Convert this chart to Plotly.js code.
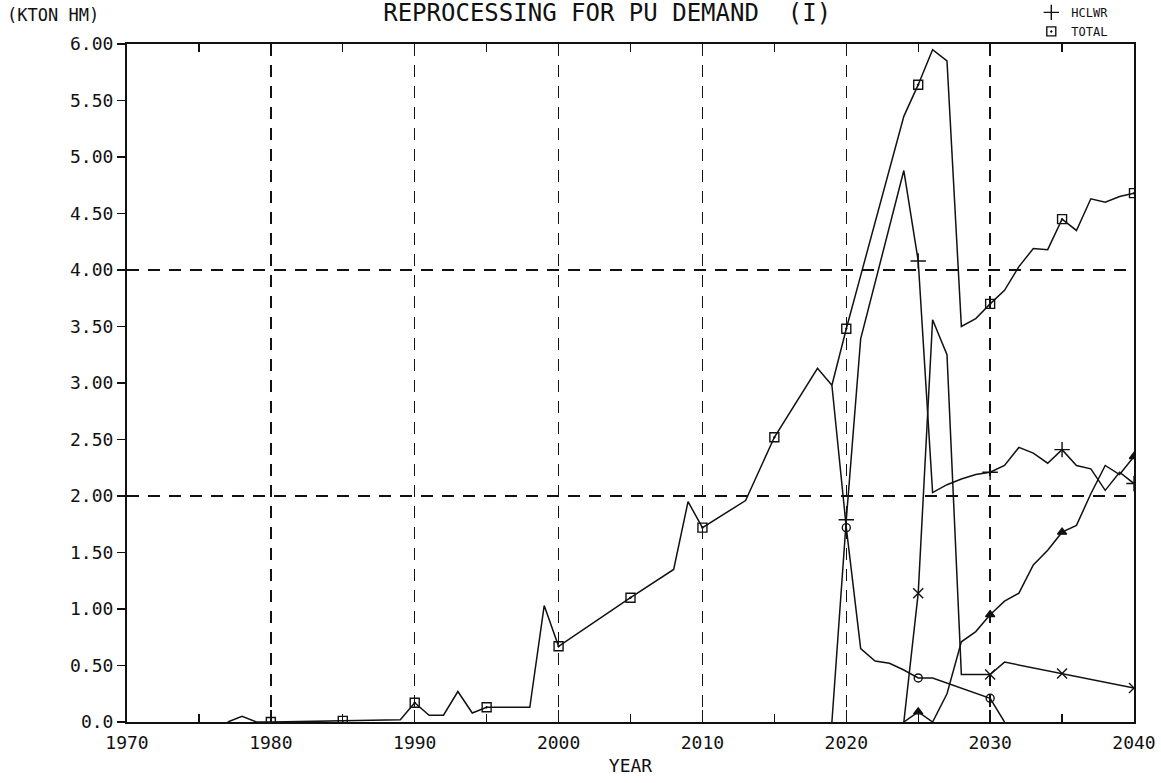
<!DOCTYPE html>
<html>
<head>
<meta charset="utf-8">
<script src="https://cdn.plot.ly/plotly-3.0.1.min.js"></script>
<style>html,body{margin:0;padding:0;background:#fff;}</style>
</head>
<body>
<div id="chart" style="width:1161px;height:783px;"></div>
<script>
// ---- data ----
const totalYears  = [1977, 1978, 1979, 1980, 1985, 1989, 1990, 1991, 1992, 1993, 1994, 1995, 1998, 1999, 2000, 2005, 2008, 2009, 2010, 2013, 2015, 2018, 2019, 2020, 2021, 2022, 2023, 2024, 2025, 2026, 2027, 2028, 2029, 2030, 2031, 2032, 2033, 2034, 2035, 2036, 2037, 2038, 2039, 2040];
const totalValues = [0.00, 0.05, 0.00, 0.00, 0.01, 0.02, 0.17, 0.06, 0.06, 0.27, 0.08, 0.13, 0.13, 1.03, 0.67, 1.10, 1.35, 1.95, 1.72, 1.96, 2.52, 3.13, 2.98, 3.48, 3.95, 4.42, 4.89, 5.36, 5.64, 5.95, 5.85, 3.50, 3.57, 3.70, 3.82, 4.03, 4.19, 4.18, 4.45, 4.35, 4.63, 4.60, 4.65, 4.68];

const hclwrYears  = [2019, 2020, 2021, 2022, 2023, 2024, 2025, 2026, 2027, 2028, 2029, 2030, 2031, 2032, 2033, 2034, 2035, 2036, 2037, 2038, 2039, 2040];
const hclwrValues = [0.00, 1.79, 3.39, 3.88, 4.38, 4.88, 4.08, 2.03, 2.10, 2.15, 2.19, 2.21, 2.27, 2.43, 2.38, 2.29, 2.41, 2.27, 2.24, 2.05, 2.21, 2.11];

const circleYears  = [2019, 2020, 2021, 2022, 2023, 2024, 2025, 2026, 2030, 2031];
const circleValues = [2.98, 1.72, 0.65, 0.54, 0.52, 0.46, 0.39, 0.39, 0.21, 0.00];

const crossYears  = [2024, 2025, 2026, 2027, 2028, 2030, 2031, 2035, 2040];
const crossValues = [0.00, 1.14, 3.56, 3.25, 0.42, 0.42, 0.53, 0.43, 0.30];

const triangleYears  = [2024, 2025, 2026, 2027, 2028, 2029, 2030, 2031, 2032, 2033, 2034, 2035, 2036, 2037, 2038, 2039, 2040];
const triangleValues = [0.00, 0.09, 0.00, 0.25, 0.71, 0.80, 0.95, 1.07, 1.14, 1.39, 1.52, 1.68, 1.74, 2.02, 2.27, 2.19, 2.35];

const xTickYears  = [1970, 1980, 1990, 2000, 2010, 2020, 2030, 2040];
const xTickLabels = ['1970', '1980', '1990', '2000', '2010', '2020', '2030', '2040'];
const yTickValues = [0, 0.5, 1, 1.5, 2, 2.5, 3, 3.5, 4, 4.5, 5, 5.5, 6];
const yTickLabels = ['0.0', '0.50', '1.00', '1.50', '2.00', '2.50', '3.00', '3.50', '4.00', '4.50', '5.00', '5.50', '6.00'];

const titleText = 'REPROCESSING FOR PU DEMAND\u00a0\u00a0(I)';
const unitLabel = '(KTON HM)';
const xTitleText = 'YEAR';

// ---- building traces ----
const FONT = 'DejaVu Sans Mono, monospace';
const INK = '#111';

function markerSubset(xs, ys) {
  const mx = [], my = [];
  xs.forEach((x, i) => { if (x % 5 === 0 && x >= 1980) { mx.push(x); my.push(ys[i]); } });
  return {mx, my};
}

function makeSeries(name, xs, ys, symbol, size, inLegend) {
  const line = {
    type: 'scatter', mode: 'lines', name: name, x: xs, y: ys,
    line: {color: INK, width: 1.5}, showlegend: false, hoverinfo: 'skip'
  };
  const m = markerSubset(xs, ys);
  const marks = {
    type: 'scatter', mode: 'markers', name: name, x: m.mx, y: m.my,
    marker: {symbol: symbol, size: size, color: INK, line: {color: INK, width: 1.4}},
    showlegend: inLegend
  };
  return [line, marks];
}

const traces = [].concat(
  makeSeries('LWR', circleYears, circleValues, 'circle-open', 8, false),
  makeSeries('X-SERIES', crossYears, crossValues, 'x-thin-open', 10, false),
  makeSeries('TRIANGLE-SERIES', triangleYears, triangleValues, 'triangle-up', 8, false),
  makeSeries('HCLWR', hclwrYears, hclwrValues, 'cross-thin-open', 11, true),
  makeSeries('TOTAL', totalYears, totalValues, 'square-open-dot', 9, true)
);

const layout = {
  width: 1161, height: 783,
  paper_bgcolor: '#fff', plot_bgcolor: '#fff',
  font: {family: FONT, color: INK, size: 18},
  margin: {l: 127, r: 27, t: 44, b: 61, autoexpand: false},
  showlegend: true,
  title: {
    text: titleText, font: {family: FONT, size: 24, color: INK},
    xref: 'container', x: 0.523, xanchor: 'center',
    yref: 'container', y: 0.995, yanchor: 'top', pad: {t: 0, b: 0}
  },
  legend: {
    x: 0.898, xanchor: 'left', y: 1.068, yanchor: 'top',
    bgcolor: 'rgba(0,0,0,0)', font: {family: FONT, size: 12, color: INK},
    itemwidth: 30, tracegroupgap: 0
  },
  xaxis: {
    range: [1970, 2040], tickvals: xTickYears, ticktext: xTickLabels,
    ticks: 'inside', ticklen: 12, tickwidth: 1.5, tickcolor: INK,
    minor: {tick0: 1970, dtick: 5, ticks: 'inside', ticklen: 8, tickwidth: 1.2, tickcolor: INK, showgrid: false},
    showline: true, linecolor: INK, linewidth: 2, mirror: 'ticks',
    showgrid: true, gridcolor: INK, gridwidth: 1.5, griddash: '12px,9px',
    zeroline: false, ticklabelstandoff: 3,
    tickfont: {family: FONT, size: 18, color: INK},
    title: {text: xTitleText, font: {family: FONT, size: 18, color: INK}, standoff: 8}
  },
  yaxis: {
    range: [0, 6], tickvals: yTickValues, ticktext: yTickLabels,
    ticks: 'outside', ticklen: 8, tickwidth: 1.5, tickcolor: INK,
    showline: true, linecolor: INK, linewidth: 2, mirror: true,
    showgrid: false, zeroline: false,
    tickfont: {family: FONT, size: 18, color: INK}
  },
  yaxis2: {
    range: [0, 6], overlaying: 'y', side: 'left', dtick: 2, tick0: 0,
    showticklabels: false, ticks: '', showline: false, zeroline: false,
    showgrid: true, gridcolor: INK, gridwidth: 1.5, griddash: '12px,9px'
  },
  annotations: [{
    text: unitLabel, xref: 'paper', yref: 'paper',
    x: -0.121, y: 1.043, xanchor: 'left', yanchor: 'middle', showarrow: false,
    font: {family: FONT, size: 17, color: INK}
  }]
};

// dummy trace so the overlaying axis (grid at every 2.00) is drawn
traces.unshift({type: 'scatter', mode: 'lines', x: [1970], y: [0], yaxis: 'y2', showlegend: false, hoverinfo: 'skip', line: {color: 'rgba(0,0,0,0)'}});

Plotly.newPlot('chart', traces, layout, {staticPlot: true, displayModeBar: false});
</script>
</body>
</html>
